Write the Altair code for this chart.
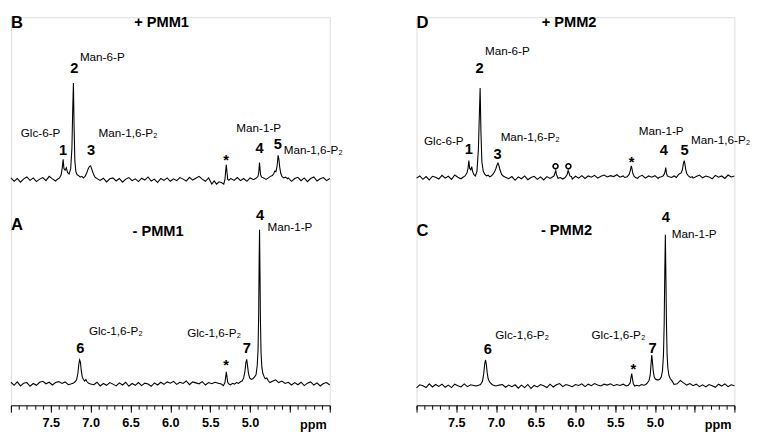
import altair as alt
import pandas as pd

FONT = "Liberation Sans"

# ---------------- data ----------------
# baseline sample positions (ppm) and hand-read baseline noise for each trace
grid_ppm = [round(8.0 - 0.04 * i, 2) for i in range(101)]

noise_B = [0.010, -0.012, 0.006, -0.018, 0.004, 0.016, -0.006, 0.010, -0.014, 0.002,
           0.012, -0.008, 0.020, 0.004, -0.010, 0.008, -0.016, 0.006, 0.018, 0.000,
           -0.012, 0.010, -0.004, 0.014, -0.008, 0.006, -0.014, 0.012, -0.006, 0.008,
           -0.016, 0.004, 0.010, -0.010, 0.006, -0.018, 0.002, 0.012, -0.008, 0.004,
           -0.014, 0.008, -0.004, 0.016, -0.010, 0.002, -0.020, 0.006, -0.006, 0.010,
           -0.012, 0.004, -0.008, 0.012, 0.002, -0.010, 0.014, -0.004, 0.008, 0.020,
           0.002, -0.012, 0.010, -0.030, -0.040, -0.020, -0.032, 0.004, -0.010, 0.006,
           -0.006, 0.012, -0.008, 0.006, -0.012, 0.010, 0.000, 0.016, -0.004, 0.010,
           -0.006, 0.012, 0.004, -0.008, 0.016, 0.006, -0.004, 0.010, -0.012, 0.006,
           0.014, -0.008, 0.010, -0.014, 0.006, 0.016, -0.010, 0.004, 0.012, -0.008,
           0.006]
noise_D = [-0.004, 0.010, -0.012, 0.006, -0.016, 0.008, 0.002, -0.010, 0.014, -0.004,
           0.008, -0.012, 0.016, 0.002, -0.008, 0.012, -0.004, 0.010, -0.014, 0.006,
           0.012, -0.010, 0.004, -0.014, 0.008, -0.006, 0.010, -0.016, 0.002, -0.008,
           0.006, -0.018, 0.004, -0.008, 0.010, -0.014, 0.000, 0.008, -0.012, 0.004,
           -0.016, 0.006, -0.006, 0.010, -0.012, 0.004, 0.012, -0.008, 0.002, -0.010,
           0.008, -0.004, 0.012, -0.006, 0.010, 0.002, 0.014, -0.004, 0.008, 0.016,
           0.004, 0.012, 0.006, 0.018, 0.002, 0.010, 0.004, 0.014, -0.002, 0.010,
           0.006, 0.014, -0.004, 0.010, 0.002, 0.012, -0.006, 0.008, 0.014, 0.004,
           -0.004, 0.010, 0.002, 0.014, -0.006, 0.008, 0.012, -0.004, 0.006, 0.016,
           -0.002, 0.010, 0.004, -0.008, 0.014, 0.002, 0.010, -0.006, 0.016, 0.004,
           0.010]
noise_A = [0.012, -0.008, 0.014, -0.012, 0.006, 0.010, -0.014, 0.004, -0.008, 0.012,
           0.018, 0.002, 0.012, -0.006, 0.010, 0.016, 0.004, 0.014, -0.004, 0.010,
           0.004, 0.012, -0.006, 0.010, -0.010, 0.006, -0.004, 0.012, -0.012, 0.004,
           -0.008, 0.010, 0.000, -0.012, 0.008, -0.006, 0.012, -0.014, 0.004, -0.008,
           0.010, -0.010, 0.006, 0.000, -0.014, 0.008, -0.006, 0.012, -0.002, 0.014,
           0.006, 0.018, -0.002, 0.012, 0.004, 0.020, -0.004, 0.014, 0.008, 0.002,
           0.016, -0.006, 0.010, 0.002, 0.012, 0.006, 0.000, 0.010, 0.004, 0.016,
           0.012, -0.004, 0.010, 0.018, 0.004, 0.020, 0.030, 0.040, 0.050, 0.060,
           0.030, 0.036, 0.018, 0.028, 0.010, 0.020, 0.004, 0.012, -0.006, 0.010,
           -0.004, 0.012, -0.010, 0.006, 0.014, -0.006, 0.008, -0.012, 0.004, 0.010,
           -0.006]
noise_C = [-0.012, 0.008, 0.002, -0.010, 0.014, -0.006, 0.010, -0.002, 0.012, -0.008,
           0.006, -0.010, 0.012, 0.002, -0.006, 0.014, -0.004, 0.008, 0.004, -0.008,
           0.010, -0.006, 0.012, -0.010, 0.004, -0.012, 0.006, 0.010, -0.008, 0.006,
           -0.004, 0.008, -0.014, 0.006, -0.010, 0.010, -0.016, 0.004, -0.006, 0.010,
           0.002, -0.010, 0.012, -0.006, 0.008, 0.016, -0.004, 0.010, 0.004, -0.004,
           0.010, 0.004, 0.014, -0.004, 0.012, 0.002, 0.016, 0.006, 0.000, 0.012,
           0.006, 0.014, 0.002, 0.010, 0.004, 0.012, 0.006, 0.016, 0.002, 0.010,
           0.004, 0.014, 0.002, 0.012, 0.020, 0.030, 0.040, 0.050, 0.060, 0.060,
           0.040, 0.030, 0.014, 0.036, 0.020, 0.006, 0.016, 0.002, 0.012, -0.004,
           0.008, -0.006, 0.010, 0.002, -0.008, 0.012, 0.000, 0.014, -0.004, 0.008,
           0.002]

# peak regions: (ppm list, intensity list)
peaks_B = [
    ([7.42, 7.39, 7.37, 7.355, 7.345, 7.335, 7.32, 7.305, 7.29, 7.27, 7.25, 7.235, 7.225, 7.216, 7.208,
      7.198, 7.185, 7.17, 7.15, 7.13, 7.11, 7.09, 7.07, 7.05, 7.03, 7.015, 7.0, 6.985, 6.965, 6.945, 6.92],
     [0.0, 0.01, 0.03, 0.08, 0.13, 0.07, 0.06, 0.075, 0.045, 0.035, 0.07, 0.2, 0.45, 0.625, 0.35,
      0.12, 0.05, 0.03, 0.025, 0.015, 0.02, 0.01, 0.02, 0.04, 0.07, 0.085, 0.088, 0.065, 0.035, 0.015, 0.005]),
    ([5.45, 5.42, 5.39, 5.36, 5.33, 5.315, 5.305, 5.298, 5.29, 5.28, 5.265, 5.245],
     [-0.01, -0.03, -0.015, -0.02, -0.03, 0.0, 0.06, 0.094, 0.05, 0.0, -0.005, 0.005]),
    ([4.95, 4.92, 4.90, 4.89, 4.882, 4.875, 4.868, 4.855, 4.83, 4.80, 4.77, 4.745, 4.72, 4.70, 4.69,
      4.675, 4.66, 4.648, 4.638, 4.628, 4.615, 4.60, 4.58, 4.555, 4.53],
     [0.0, 0.01, 0.02, 0.05, 0.11, 0.07, 0.03, 0.015, 0.01, 0.0, 0.01, 0.02, 0.025, 0.04, 0.055,
      0.05, 0.09, 0.156, 0.13, 0.08, 0.04, 0.02, 0.01, 0.015, 0.005]),
]
peaks_D = [
    ([7.42, 7.39, 7.365, 7.352, 7.342, 7.332, 7.318, 7.306, 7.295, 7.28, 7.26, 7.24, 7.222, 7.21, 7.2,
      7.19, 7.178, 7.16, 7.14, 7.12, 7.10, 7.08, 7.06, 7.04, 7.02, 7.0, 6.985, 6.976, 6.965, 6.95, 6.93, 6.91],
     [0.0, 0.01, 0.03, 0.06, 0.11, 0.06, 0.05, 0.07, 0.04, 0.02, 0.01, 0.04, 0.18, 0.4, 0.58,
      0.3, 0.1, 0.04, 0.02, 0.01, 0.015, 0.005, 0.01, 0.02, 0.035, 0.06, 0.085, 0.094, 0.08, 0.05, 0.02, 0.01]),
    ([6.30, 6.27, 6.255, 6.248, 6.24, 6.22, 6.19, 6.16, 6.13, 6.105, 6.092, 6.085, 6.07, 6.05],
     [0.0, 0.01, 0.035, 0.045, 0.02, -0.005, 0.0, -0.01, 0.0, 0.02, 0.045, 0.035, 0.01, 0.005]),
    ([5.38, 5.35, 5.325, 5.31, 5.298, 5.29, 5.28, 5.265, 5.245, 5.22],
     [0.0, 0.005, 0.02, 0.045, 0.075, 0.06, 0.03, 0.01, 0.0, -0.005]),
    ([4.95, 4.92, 4.90, 4.885, 4.872, 4.864, 4.856, 4.845, 4.82, 4.79, 4.76, 4.73, 4.71, 4.69, 4.67,
      4.655, 4.642, 4.632, 4.624, 4.612, 4.60, 4.58, 4.555, 4.53],
     [0.0, 0.005, 0.01, 0.02, 0.04, 0.065, 0.03, 0.01, 0.005, 0.0, 0.01, 0.0, 0.015, 0.025, 0.03,
      0.05, 0.09, 0.11, 0.09, 0.05, 0.025, 0.01, 0.0, 0.005]),
]
peaks_A = [
    ([7.25, 7.22, 7.195, 7.175, 7.16, 7.148, 7.138, 7.128, 7.118, 7.105, 7.09, 7.075, 7.06, 7.045, 7.025, 7.0],
     [0.0, 0.005, 0.015, 0.03, 0.07, 0.13, 0.156, 0.14, 0.09, 0.045, 0.03, 0.02, 0.03, 0.015, 0.005, 0.0]),
    ([5.36, 5.335, 5.315, 5.305, 5.298, 5.29, 5.28, 5.265, 5.245, 5.22, 5.195, 5.17, 5.145, 5.12, 5.10,
      5.08, 5.065, 5.052, 5.042, 5.032, 5.02, 5.005, 4.985, 4.965, 4.945, 4.925, 4.91, 4.90, 4.892, 4.886,
      4.881, 4.876, 4.87, 4.862, 4.852, 4.84, 4.825, 4.81, 4.79, 4.77, 4.75],
     [0.0, -0.01, 0.01, 0.05, 0.08, 0.05, 0.01, 0.0, -0.005, 0.005, 0.0, 0.01, 0.005, 0.015, 0.02,
      0.04, 0.08, 0.14, 0.16, 0.12, 0.07, 0.04, 0.03, 0.035, 0.045, 0.06, 0.12, 0.22, 0.45, 0.8,
      1.0, 0.75, 0.42, 0.2, 0.11, 0.07, 0.05, 0.035, 0.04, 0.02, 0.01]),
]
peaks_C = [
    ([7.25, 7.22, 7.195, 7.17, 7.155, 7.143, 7.132, 7.122, 7.112, 7.1, 7.085, 7.07, 7.05, 7.03, 7.0],
     [0.0, 0.005, 0.01, 0.03, 0.08, 0.14, 0.17, 0.14, 0.09, 0.05, 0.03, 0.02, 0.01, 0.005, 0.0]),
    ([5.36, 5.335, 5.312, 5.3, 5.292, 5.284, 5.272, 5.255, 5.23, 5.2, 5.17, 5.14, 5.115, 5.095, 5.075,
      5.06, 5.048, 5.04, 5.032, 5.022, 5.01, 4.995, 4.975, 4.955, 4.937, 4.92, 4.905, 4.893, 4.884, 4.876,
      4.869, 4.862, 4.855, 4.847, 4.838, 4.825, 4.81, 4.795, 4.78, 4.76],
     [0.0, 0.005, 0.02, 0.06, 0.08, 0.05, 0.015, 0.0, 0.005, 0.0, 0.01, 0.005, 0.01, 0.02, 0.035,
      0.07, 0.15, 0.2, 0.16, 0.1, 0.06, 0.045, 0.04, 0.04, 0.045, 0.06, 0.1, 0.2, 0.4, 0.75,
      0.98, 0.7, 0.4, 0.2, 0.12, 0.07, 0.05, 0.04, 0.03, 0.01]),
]

# vertical offset of each trace in the stack (intensity units)
spectra = {
    "B": ("left", 1.325, noise_B, peaks_B),
    "A": ("left", 0.0, noise_A, peaks_A),
    "D": ("right", 1.3375, noise_D, peaks_D),
    "C": ("right", -0.0125, noise_C, peaks_C),
}

# labels: panel, ppm, intensity, text, style
labels = [
    ("left", 8.0, 2.3375, "B", "letter"),
    ("left", 6.11, 2.344, "+ PMM1", "title"),
    ("left", 7.204, 2.044, "2", "num"),
    ("left", 7.135, 2.117, "Man-6-P", "name_l"),
    ("left", 7.628, 1.627, "Glc-6-P", "name_c"),
    ("left", 7.345, 1.514, "1", "num"),
    ("left", 6.994, 1.514, "3", "num"),
    ("left", 6.901, 1.627, "Man-1,6-P\u2082", "name_l"),
    ("left", 5.30, 1.417, "*", "star"),
    ("left", 4.891, 1.658, "Man-1-P", "name_c"),
    ("left", 4.881, 1.525, "4", "num"),
    ("left", 4.651, 1.554, "5", "num"),
    ("left", 4.578, 1.514, "Man-1,6-P\u2082", "name_l"),
    ("left", 8.0, 1.029, "A", "letter"),
    ("left", 6.154, 0.992, "- PMM1", "title"),
    ("left", 4.873, 1.092, "4", "num"),
    ("left", 4.78, 1.019, "Man-1-P", "name_l"),
    ("left", 7.022, 0.346, "Glc-1,6-P\u2082", "name_l"),
    ("left", 7.131, 0.233, "6", "num"),
    ("left", 5.451, 0.331, "Glc-1,6-P\u2082", "name_c"),
    ("left", 5.30, 0.089, "*", "star"),
    ("left", 5.042, 0.233, "7", "num"),
    ("left", 4.206, -0.2625, "ppm", "unit"),
    ("right", 8.0, 2.3375, "D", "letter"),
    ("right", 6.081, 2.344, "+ PMM2", "title"),
    ("right", 7.208, 2.044, "2", "num"),
    ("right", 7.139, 2.158, "Man-6-P", "name_l"),
    ("right", 7.657, 1.575, "Glc-6-P", "name_c"),
    ("right", 7.342, 1.523, "1", "num"),
    ("right", 6.982, 1.4875, "3", "num"),
    ("right", 6.942, 1.596, "Man-1,6-P\u2082", "name_l"),
    ("right", 5.293, 1.406, "*", "star"),
    ("right", 4.921, 1.6375, "Man-1-P", "name_c"),
    ("right", 4.889, 1.5125, "4", "num"),
    ("right", 4.627, 1.5125, "5", "num"),
    ("right", 4.545, 1.581, "Man-1,6-P\u2082", "name_l"),
    ("right", 8.0, 0.992, "C", "letter"),
    ("right", 6.113, 0.998, "- PMM2", "title"),
    ("right", 4.864, 1.081, "4", "num"),
    ("right", 4.788, 0.971, "Man-1-P", "name_l"),
    ("right", 7.010, 0.317, "Glc-1,6-P\u2082", "name_l"),
    ("right", 7.103, 0.227, "6", "num"),
    ("right", 5.459, 0.32, "Glc-1,6-P\u2082", "name_c"),
    ("right", 5.273, 0.0625, "*", "star"),
    ("right", 5.03, 0.233, "7", "num"),
    ("right", 4.206, -0.2625, "ppm", "unit"),
]

# unidentified signals (open circles) in D
circle_ppm = [6.251, 6.089]
circle_y = [1.41, 1.41]

major_ticks = [round(4.0 + 0.5 * i, 1) for i in range(9)]
minor_ticks = [round(4.0 + 0.1 * i, 1) for i in range(41)]

# ---------------- assemble tables ----------------
rows = []
for name, (panel, offset, noise, segs) in spectra.items():
    pts = []
    ranges = [(min(p), max(p)) for p, _ in segs]
    for p, v in zip(grid_ppm, noise):
        if not any(lo <= p <= hi for lo, hi in ranges):
            pts.append((p, v))
    for p_list, v_list in segs:
        pts.extend(zip(p_list, v_list))
    pts.sort(key=lambda t: -t[0])
    for i, (p, v) in enumerate(pts):
        rows.append({"panel": panel, "spec": name, "ppm": p, "y": v + offset, "order": i})
spec_df = pd.DataFrame(rows)
lab_df = pd.DataFrame(labels, columns=["panel", "ppm", "y", "text", "style"])
circ_df = pd.DataFrame({"panel": "right", "ppm": circle_ppm, "y": circle_y})

x_scale = alt.Scale(domain=[4.0, 8.0], reverse=True, nice=False, zero=False)
y_scale = alt.Scale(domain=[-0.1375, 2.375], nice=False, zero=False)

major_axis = alt.Axis(
    values=major_ticks, orient="bottom", tickSize=7, tickWidth=1, tickColor="black",
    domainColor="black", domainWidth=1, grid=False, title=None,
    labelExpr="datum.value > 4.9 && datum.value < 7.6 ? format(datum.value, '.1f') : ''",
    labelFont=FONT, labelFontSize=13, labelFontWeight="bold", labelColor="black",
    labelPadding=5, labelFlush=False, labelOverlap=False,
)
minor_axis = alt.Axis(
    values=minor_ticks, orient="bottom", tickSize=4, tickWidth=1, tickColor="black",
    domain=False, labels=False, grid=False, title=None,
)

styles = {
    "letter": dict(fontSize=17, fontWeight="bold", align="left", baseline="middle"),
    "title": dict(fontSize=15, fontWeight="bold", align="center", baseline="middle"),
    "num": dict(fontSize=15, fontWeight="bold", align="center", baseline="middle"),
    "name_l": dict(fontSize=12, fontWeight="normal", align="left", baseline="middle"),
    "name_c": dict(fontSize=12, fontWeight="normal", align="center", baseline="middle"),
    "star": dict(fontSize=15, fontWeight="bold", align="center", baseline="alphabetic"),
    "unit": dict(fontSize=13, fontWeight="bold", align="center", baseline="middle"),
}


def panel(side, width):
    layers = []
    line = alt.Chart(spec_df[spec_df.panel == side]).mark_line(
        color="black", strokeWidth=1.1
    ).encode(
        x=alt.X("ppm:Q", scale=x_scale, axis=major_axis),
        y=alt.Y("y:Q", scale=y_scale, axis=None),
        detail="spec:N",
        order="order:Q",
    )
    layers.append(line)
    first = True
    for st, props in styles.items():
        sub = lab_df[(lab_df.panel == side) & (lab_df["style"] == st)]
        if sub.empty:
            continue
        t = alt.Chart(sub).mark_text(font=FONT, color="black", **props).encode(
            x=alt.X("ppm:Q", scale=x_scale, axis=minor_axis if first else None),
            y=alt.Y("y:Q", scale=y_scale, axis=None),
            text="text:N",
        )
        first = False
        layers.append(t)
    if side == "right":
        c = alt.Chart(circ_df).mark_point(
            shape="circle", filled=False, size=26, strokeWidth=1.6, color="black", opacity=1
        ).encode(
            x=alt.X("ppm:Q", scale=x_scale, axis=None),
            y=alt.Y("y:Q", scale=y_scale, axis=None),
        )
        layers.append(c)
    return alt.layer(*layers).resolve_axis(x="independent").properties(width=width, height=398)


chart = alt.hconcat(panel("left", 327), panel("right", 326), spacing=72).properties(
    padding=0
).configure_view(stroke=None).configure(background="white")

chart.save("out.html", embed_options={"renderer": "svg", "actions": False})
